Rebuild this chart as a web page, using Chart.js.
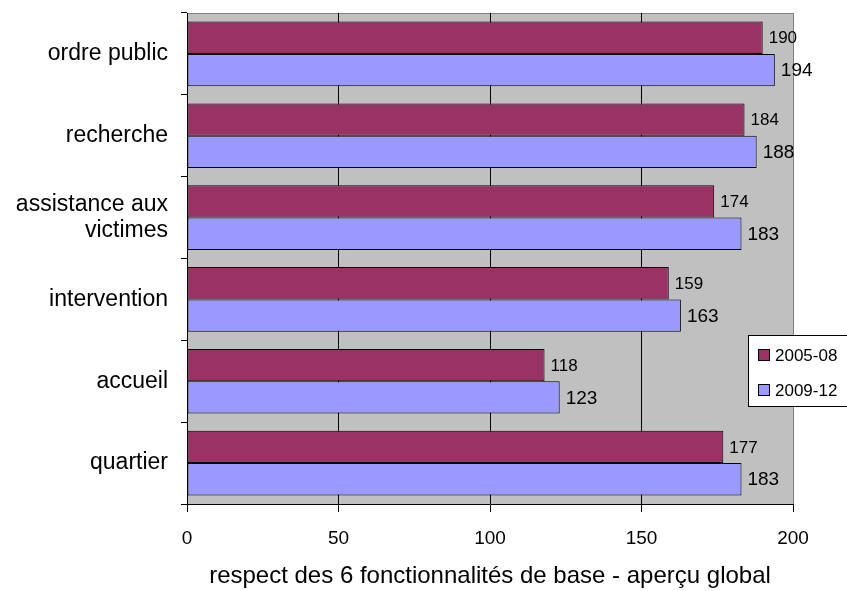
<!DOCTYPE html>
<html>
<head>
<meta charset="utf-8">
<script src="https://cdn.jsdelivr.net/npm/chart.js@4/dist/chart.umd.min.js"></script>
<style>
  html, body { margin: 0; padding: 0; background: #fff; }
  #wrap { width: 847px; height: 591px; }
</style>
</head>
<body>
<div id="wrap"><canvas id="c" width="847" height="591"></canvas></div>
<script>
const categories = ['ordre public', 'recherche', ['assistance aux', 'victimes'], 'intervention', 'accueil', 'quartier'];
const seriesNames = ['2005-08', '2009-12'];
const values2005 = [190, 184, 174, 159, 118, 177];
const values2009 = [194, 188, 183, 163, 123, 183];
const xTicks = [0, 50, 100, 150, 200];
const axisTitle = 'respect des 6 fonctionnalités de base - aperçu global';

const FONT = '"Liberation Sans", Arial, sans-serif';
const labelSizes = [17, 19];

const bgPlugin = {
  id: 'plotBg',
  beforeDraw(chart) {
    const { ctx, chartArea: a } = chart;
    ctx.save();
    ctx.fillStyle = '#C0C0C0';
    ctx.fillRect(a.left, a.top, a.right - a.left, a.bottom - a.top);
    ctx.strokeStyle = '#808080';
    ctx.lineWidth = 1;
    ctx.beginPath();
    ctx.moveTo(a.left, a.top + 0.5);
    ctx.lineTo(a.right + 0.5, a.top + 0.5);
    ctx.lineTo(a.right + 0.5, a.bottom);
    ctx.stroke();
    ctx.restore();
  }
};

const valueLabels = {
  id: 'valueLabels',
  afterDatasetsDraw(chart) {
    const ctx = chart.ctx;
    ctx.save();
    ctx.fillStyle = '#000';
    ctx.textBaseline = 'middle';
    ctx.textAlign = 'left';
    chart.data.datasets.forEach((ds, i) => {
      const meta = chart.getDatasetMeta(i);
      ctx.font = labelSizes[i] + 'px ' + FONT;
      meta.data.forEach((el, j) => {
        ctx.fillText(String(ds.data[j]), el.x + 6, el.y + 1);
      });
    });
    ctx.restore();
  }
};

const legendBox = {
  id: 'legendBox',
  afterDraw(chart) {
    const ctx = chart.ctx;
    ctx.save();
    ctx.fillStyle = '#fff';
    ctx.strokeStyle = '#000';
    ctx.lineWidth = 1;
    ctx.fillRect(748.5, 335.5, 120, 71);
    ctx.strokeRect(748.5, 335.5, 120, 71);
    const ys = [355, 390];
    chart.data.datasets.forEach((ds, i) => {
      ctx.fillStyle = ds.backgroundColor;
      ctx.fillRect(758.5, ys[i] - 5.5, 11, 11);
      ctx.strokeRect(758.5, ys[i] - 5.5, 11, 11);
      ctx.fillStyle = '#000';
      ctx.font = '17px ' + FONT;
      ctx.textBaseline = 'middle';
      ctx.textAlign = 'left';
      ctx.fillText(ds.label, 775, ys[i] + 1);
    });
    ctx.restore();
  }
};

new Chart(document.getElementById('c'), {
  type: 'bar',
  data: {
    labels: categories,
    datasets: [
      { label: seriesNames[0], data: values2005, backgroundColor: '#993366', borderColor: '#000', borderWidth: 1, borderSkipped: false },
      { label: seriesNames[1], data: values2009, backgroundColor: '#9999FF', borderColor: '#000', borderWidth: 1, borderSkipped: false }
    ]
  },
  options: {
    indexAxis: 'y',
    responsive: false,
    animation: false,
    events: [],
    datasets: { bar: { categoryPercentage: 0.79, barPercentage: 1.0 } },
    layout: { padding: { top: 13, right: 54, left: 0, bottom: 0 } },
    plugins: { legend: { display: false }, tooltip: { enabled: false } },
    scales: {
      x: {
        min: 0, max: 200,
        afterBuildTicks(s) { s.ticks = xTicks.map(v => ({ value: v })); },
        afterFit(s) { s.height = 87; s.paddingLeft = 0; s.paddingRight = 0; },
        grid: {
          color: (c) => (c.tick && c.tick.value === 200) ? '#808080' : '#000',
          tickColor: '#000',
          tickLength: 8,
          lineWidth: 1
        },
        border: { color: '#000', width: 1 },
        ticks: { color: '#000', font: { family: FONT, size: 19 }, padding: 15, maxRotation: 0 },
        title: { display: true, text: axisTitle, color: '#000', font: { family: FONT, size: 24 }, padding: { top: 0, bottom: 0 } }
      },
      y: {
        afterFit(s) { s.width = 187; s.paddingTop = 0; s.paddingBottom = 0; },
        grid: { offset: true, drawOnChartArea: false, tickColor: '#000', tickLength: 6 },
        border: { color: '#000', width: 1 },
        ticks: { color: '#000', font: { family: FONT, size: 23, lineHeight: 1.15 }, padding: 13 }
      }
    }
  },
  plugins: [bgPlugin, valueLabels, legendBox]
});
</script>
</body>
</html>
